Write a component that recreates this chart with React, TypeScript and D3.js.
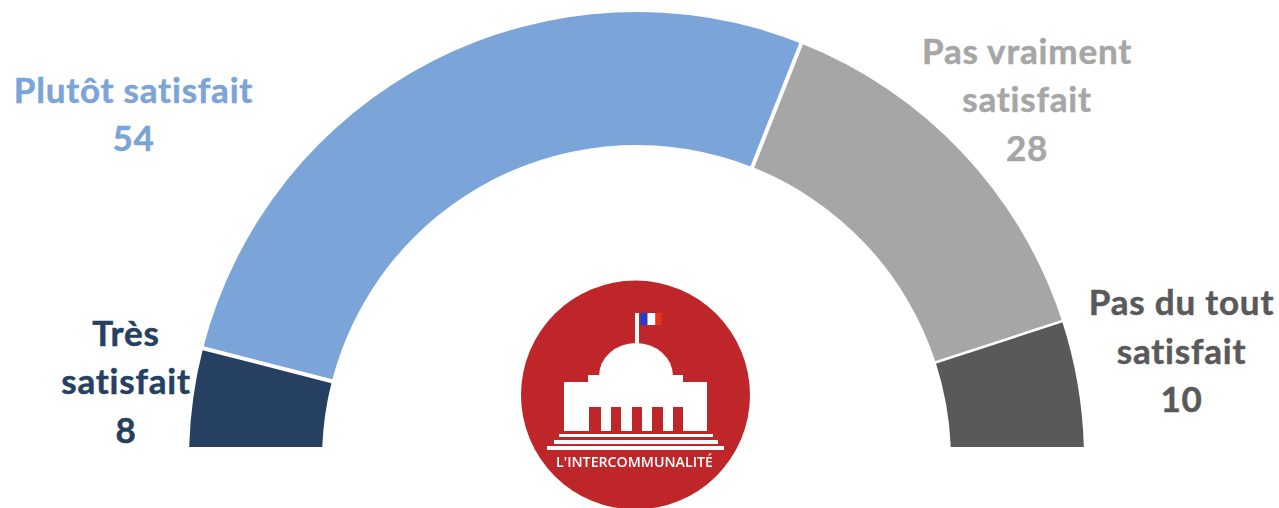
import React from "react";
import * as d3 from "d3";

const categories = ["Très satisfait", "Plutôt satisfait", "Pas vraiment satisfait", "Pas du tout satisfait"];
const values = [8, 54, 28, 10];
const colors = ["#254061", "#7BA4D9", "#A6A6A6", "#595959"];
const labelLines = [["Très", "satisfait"], ["Plutôt satisfait"], ["Pas vraiment", "satisfait"], ["Pas du tout", "satisfait"]];
const textColors = ["#254061", "#7BA4D9", "#A6A6A6", "#595959"];
const labelAnchors: [number, number][] = [[126, 345.5], [133.5, 102.5], [1027, 63.5], [1181.5, 315]];
const dividerWidths = [4, 4, 2.6];

const W = 1279, H = 508, CX = 636.5, CY = 459.5, R = 447.5, r = 314.5, CLIP_Y = 447;
const LINE = 48.7, FONT = "Lato, Carlito, Calibri, sans-serif", FS = 35;

const columnGaps = [589, 611, 632, 652, 673];
const columnWidths = [12, 10, 10, 11, 10];
const steps = [[559, 713, 434, 3], [554, 718, 440, 4], [547, 724, 446, 4]];

export default function App() {
  const pie = d3.pie<number>().sort(null).startAngle(-Math.PI / 2).endAngle(Math.PI / 2);
  const arcs = pie(values);
  const arc = d3.arc<d3.PieArcDatum<number>>().innerRadius(r).outerRadius(R);
  const radial = (a: number, rad: number) => [CX + rad * Math.sin(a), CY - rad * Math.cos(a)];
  return (
    <svg width={W} height={H} viewBox={`0 0 ${W} ${H}`} style={{ position: "absolute", left: 0, top: 0, background: "#fff" }}>
      <defs>
        <clipPath id="crop"><rect x={0} y={0} width={W} height={CLIP_Y} /></clipPath>
        <filter id="soft" x="-5%" y="-5%" width="110%" height="110%"><feGaussianBlur stdDeviation="0.45" /></filter>
      </defs>
      <g clipPath="url(#crop)">
        <g transform={`translate(${CX},${CY})`}>
          {arcs.map((d, i) => <path key={categories[i]} d={arc(d) as string} fill={colors[i]} />)}
        </g>
        {arcs.slice(0, -1).map((d, i) => {
          const [x1, y1] = radial(d.endAngle, r - 2);
          const [x2, y2] = radial(d.endAngle, R + 2);
          return <line key={i} x1={x1} y1={y1} x2={x2} y2={y2} stroke="#fff" strokeWidth={dividerWidths[i]} />;
        })}
      </g>
      {categories.map((c, i) => {
        const lines = [...labelLines[i], String(values[i])];
        return (
          <text key={c} fontFamily={FONT} fontWeight={700} fontSize={FS} fill={textColors[i]} stroke={textColors[i]} strokeWidth={0.5} letterSpacing={0.8} textAnchor="middle">
            {lines.map((l, j) => <tspan key={j} x={labelAnchors[i][0]} y={labelAnchors[i][1] + j * LINE}>{l}</tspan>)}
          </text>
        );
      })}
      <g filter="url(#soft)">
        <circle cx={635.5} cy={395} r={114.5} fill="#BF262C" />
        <rect x={635} y={313} width={4} height={33} fill="#fff" />
        <rect x={640.5} y={313} width={7} height={12} fill="#1F3FD0" />
        <rect x={647.5} y={313} width={8} height={12} fill="#fff" />
        <rect x={655.5} y={313} width={6} height={12} fill="#E8301F" />
        <path d="M599,376 A37,33 0 0 1 673,376 Z" fill="#fff" />
        <rect x={588} y={375} width={95} height={8} fill="#fff" />
        <rect x={564} y={382} width={143} height={49} fill="#fff" />
        {columnGaps.map((x, i) => <rect key={x} x={x} y={407} width={columnWidths[i]} height={24} fill="#BF262C" />)}
        {steps.map(([a, b, y, h]) => <rect key={y} x={a} y={y} width={b - a} height={h} fill="#fff" />)}
        <text x={634.5} y={467} textAnchor="middle" fontFamily="'Open Sans', sans-serif" fontWeight={600} fontSize={15} fill="#fff" textLength={157} lengthAdjust="spacingAndGlyphs">L'INTERCOMMUNALITÉ</text>
      </g>
    </svg>
  );
}
